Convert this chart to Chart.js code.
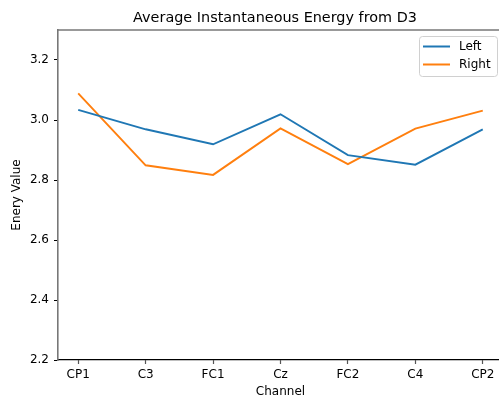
<!DOCTYPE html>
<html>
<head>
<meta charset="utf-8">
<title>Average Instantaneous Energy from D3</title>
<script src="https://cdn.jsdelivr.net/npm/chart.js@4/dist/chart.umd.min.js"></script>
<style>
  html, body { margin: 0; padding: 0; background: #fff; overflow: hidden; }
  #wrap { width: 499px; height: 401px; overflow: hidden; }
  canvas { display: block; }
</style>
</head>
<body>
<div id="wrap"><canvas id="chart" width="504" height="401"></canvas></div>
<script>
// Channel names along the x axis
const channels = ["CP1", "C3", "FC1", "Cz", "FC2", "C4", "CP2"];
// Average instantaneous energy per channel
const leftValues  = [3.034, 2.969, 2.919, 3.019, 2.883, 2.851, 2.969];
const rightValues = [3.089, 2.849, 2.817, 2.972, 2.853, 2.971, 3.031];
// Y tick values
const yTicks = [2.2, 2.4, 2.6, 2.8, 3.0, 3.2];

const titleText = "Average Instantaneous Energy from D3";
const FONT = "'DejaVu Sans', sans-serif";

const toPoints = vals => vals.map((v, i) => ({ x: i, y: v }));

// Title, top spine and in-axes legend
const decorations = {
  id: "decorations",
  afterDraw(chart) {
    const { ctx, chartArea } = chart;
    ctx.save();
    // top spine
    ctx.strokeStyle = "#777";
    ctx.lineWidth = 1.5;
    ctx.beginPath();
    ctx.moveTo(chartArea.left - 0.75, chartArea.top);
    ctx.lineTo(chartArea.right, chartArea.top);
    ctx.stroke();

    // title
    ctx.fillStyle = "#000";
    ctx.font = "14.4px " + FONT;
    ctx.textAlign = "center";
    ctx.textBaseline = "alphabetic";
    ctx.fillText(titleText, 275, 21.5);

    // legend
    const bx = 419, by = 36, bw = 78, bh = 40, r = 3;
    ctx.fillStyle = "rgba(255,255,255,0.8)";
    ctx.strokeStyle = "#d0d0d0";
    ctx.lineWidth = 1;
    ctx.beginPath();
    ctx.roundRect(bx + 0.5, by + 0.5, bw, bh, r);
    ctx.fill();
    ctx.stroke();
    ctx.font = "12px " + FONT;
    ctx.textAlign = "left";
    ctx.textBaseline = "middle";
    chart.data.datasets.forEach((ds, i) => {
      const y = by + 10.5 + i * 18;
      ctx.strokeStyle = ds.borderColor;
      ctx.lineWidth = 2;
      ctx.beginPath();
      ctx.moveTo(bx + 4, y);
      ctx.lineTo(bx + 31, y);
      ctx.stroke();
      ctx.fillStyle = "#000";
      ctx.fillText(ds.label, bx + 40, y + 0.5);
    });
    ctx.restore();
  }
};

new Chart(document.getElementById("chart"), {
  type: "line",
  data: {
    datasets: [
      { label: "Left",  data: toPoints(leftValues),  borderColor: "#1f77b4", backgroundColor: "#1f77b4", borderWidth: 1.9, pointRadius: 0, tension: 0, fill: false },
      { label: "Right", data: toPoints(rightValues), borderColor: "#ff7f0e", backgroundColor: "#ff7f0e", borderWidth: 1.9, pointRadius: 0, tension: 0, fill: false }
    ]
  },
  options: {
    responsive: false,
    devicePixelRatio: 1,
    animation: false,
    layout: { padding: { top: 30, left: 0, right: 1, bottom: 0 } },
    plugins: {
      legend: { display: false },
      tooltip: { enabled: false },
      title: { display: false }
    },
    scales: {
      x: {
        type: "linear",
        min: -0.3,
        max: channels.length - 1 + 0.3,
        afterBuildTicks: s => { s.ticks = channels.map((c, i) => ({ value: i })); },
        afterFit: s => { s.height = 41; },
        ticks: {
          callback: v => channels[v],
          color: "#000",
          font: { family: FONT, size: 12 },
          padding: 4,
          maxRotation: 0,
          autoSkip: false
        },
        grid: { drawOnChartArea: false, drawTicks: true, tickLength: 4, tickColor: "#555", tickWidth: 1.2 },
        border: { display: true, color: "#000", width: 1.2 },
        title: { display: true, text: "Channel", color: "#000", font: { family: FONT, size: 12 }, padding: { top: 0, bottom: 1.5 } }
      },
      y: {
        min: 2.2,
        max: 3.3,
        afterBuildTicks: s => { s.ticks = yTicks.map(v => ({ value: v })); },
        afterFit: s => { s.width = 58; },
        ticks: {
          callback: v => Number(v).toFixed(1),
          color: "#000",
          font: { family: FONT, size: 12 },
          padding: 5
        },
        grid: { drawOnChartArea: false, drawTicks: true, tickLength: 4, tickColor: "#000", tickWidth: 1 },
        border: { display: true, color: "#777", width: 1.6 },
        title: { display: true, text: "Enery Value", color: "#000", font: { family: FONT, size: 12 }, padding: { top: 10, bottom: 0 } }
      }
    }
  },
  plugins: [decorations]
});
</script>
</body>
</html>
